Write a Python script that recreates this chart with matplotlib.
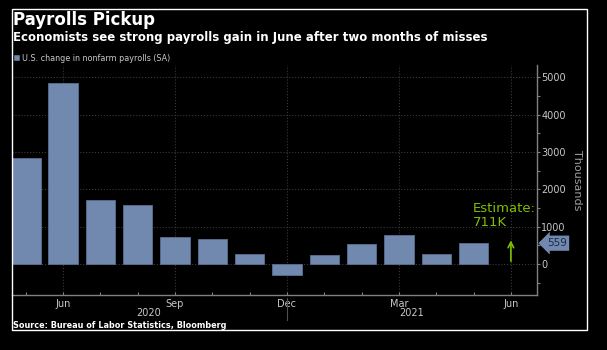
import matplotlib.pyplot as plt
import numpy as np

# Monthly change in nonfarm payrolls, thousands (May 2020 - May 2021)
months = ['May', 'Jun', 'Jul', 'Aug', 'Sep', 'Oct', 'Nov', 'Dec',
          'Jan', 'Feb', 'Mar', 'Apr', 'May']
payrolls = [2833, 4846, 1726, 1583, 716, 680, 264, -306, 233, 536, 785, 269, 559]
estimate = 711  # June 2021 consensus
tick_labels = ['Jun', 'Sep', 'Dec', 'Mar', 'Jun']
tick_pos = [1, 4, 7, 10, 13]
years = ['2020', '2021']

bar_color = '#7189ae'
grey = '#a0a0a0'
green = '#7fbf00'

fig = plt.figure(figsize=(6.07, 3.5), dpi=100, facecolor='black')
ax = fig.add_axes([12 / 607, 1 - 295 / 350, 525 / 607, 230 / 350])
ax.set_facecolor('black')

x = np.arange(len(payrolls))
ax.bar(x, payrolls, width=0.79, color=bar_color, edgecolor='#5a6f90', linewidth=0.6,
       label='U.S. change in nonfarm payrolls (SA)', zorder=3)

# estimate arrow for June 2021
ax.annotate('', xy=(13, estimate), xytext=(13, 0),
            arrowprops=dict(arrowstyle='->', color=green, lw=1.2), zorder=4)
ax.text(11.98, 1300, 'Estimate:\n711K', color=green, fontsize=9.5, ha='left',
        va='center', linespacing=1.05)

ax.set_xlim(-0.37, 13.7)
ax.set_ylim(-830, 5335)

ax.yaxis.tick_right()
ax.yaxis.set_label_position('right')
ax.set_yticks(range(0, 5001, 1000))
ax.set_yticks(range(-500, 5001, 500), minor=True)
ax.set_ylabel('Thousands', color=grey, fontsize=8, rotation=270, labelpad=12)
ax.set_xticks(tick_pos)
ax.set_xticklabels(tick_labels)
ax.set_xticks(np.arange(0, 14), minor=True)

ax.tick_params(axis='both', which='both', colors='#808080', labelcolor='#c8c8c8',
               labelsize=7, length=2, width=0.8)
ax.tick_params(axis='x', which='both', direction='in', pad=3)
ax.tick_params(axis='y', which='both', direction='out', pad=1)

for s in ['top', 'left']:
    ax.spines[s].set_visible(False)
for s in ['bottom', 'right']:
    ax.spines[s].set_color('#808080')
    ax.spines[s].set_linewidth(1.0)

ax.grid(True, which='major', color='#3a3a3a', linestyle=':', linewidth=0.8, zorder=0)

# last value tag on the axis
ax.annotate(str(payrolls[-1]), xy=(1.0, payrolls[-1]), xycoords=('axes fraction', 'data'),
            xytext=(7, 0), textcoords='offset points', va='center', ha='left',
            fontsize=7.5, color='#1c2a44',
            bbox=dict(boxstyle='larrow,pad=0.25', fc=bar_color, ec='none'))

# year labels and separator
ax.text(3.3, -0.078, years[0], transform=ax.get_xaxis_transform(), ha='center',
        va='center', color='#c8c8c8', fontsize=7)
ax.text(10.35, -0.078, years[1], transform=ax.get_xaxis_transform(), ha='center',
        va='center', color='#c8c8c8', fontsize=7)
ax.plot([7, 7], [-0.013, -0.11], transform=ax.get_xaxis_transform(), color='#505050',
        lw=0.8, clip_on=False)

leg = ax.legend(loc='lower left', bbox_to_anchor=(0, 1.0), frameon=False, fontsize=5.8,
                handlelength=0.6, handleheight=0.6, handletextpad=0.3, borderaxespad=0.2,
                borderpad=0.1)
for t in leg.get_texts():
    t.set_color('#c8c8c8')

fig.text(13 / 607, 1 - 20 / 350, 'Payrolls Pickup', color='white', fontsize=12,
         fontweight='bold', va='center', ha='left')
fig.text(13 / 607, 1 - 37 / 350, 'Economists see strong payrolls gain in June after two months of misses',
         color='white', fontsize=8.5, fontweight='bold', va='center', ha='left')
fig.text(13 / 607, 1 - 325 / 350, 'Source: Bureau of Labor Statistics, Bloomberg',
         color='white', fontsize=5.9, fontweight='bold', va='center', ha='left')

# white frame
fig.add_artist(plt.Rectangle((11.5 / 607, 1 - 329.5 / 350), 575 / 607, 321 / 350,
                             transform=fig.transFigure, fill=False, ec='white', lw=1.0))

fig.savefig('out.png', dpi=100, facecolor='black')
